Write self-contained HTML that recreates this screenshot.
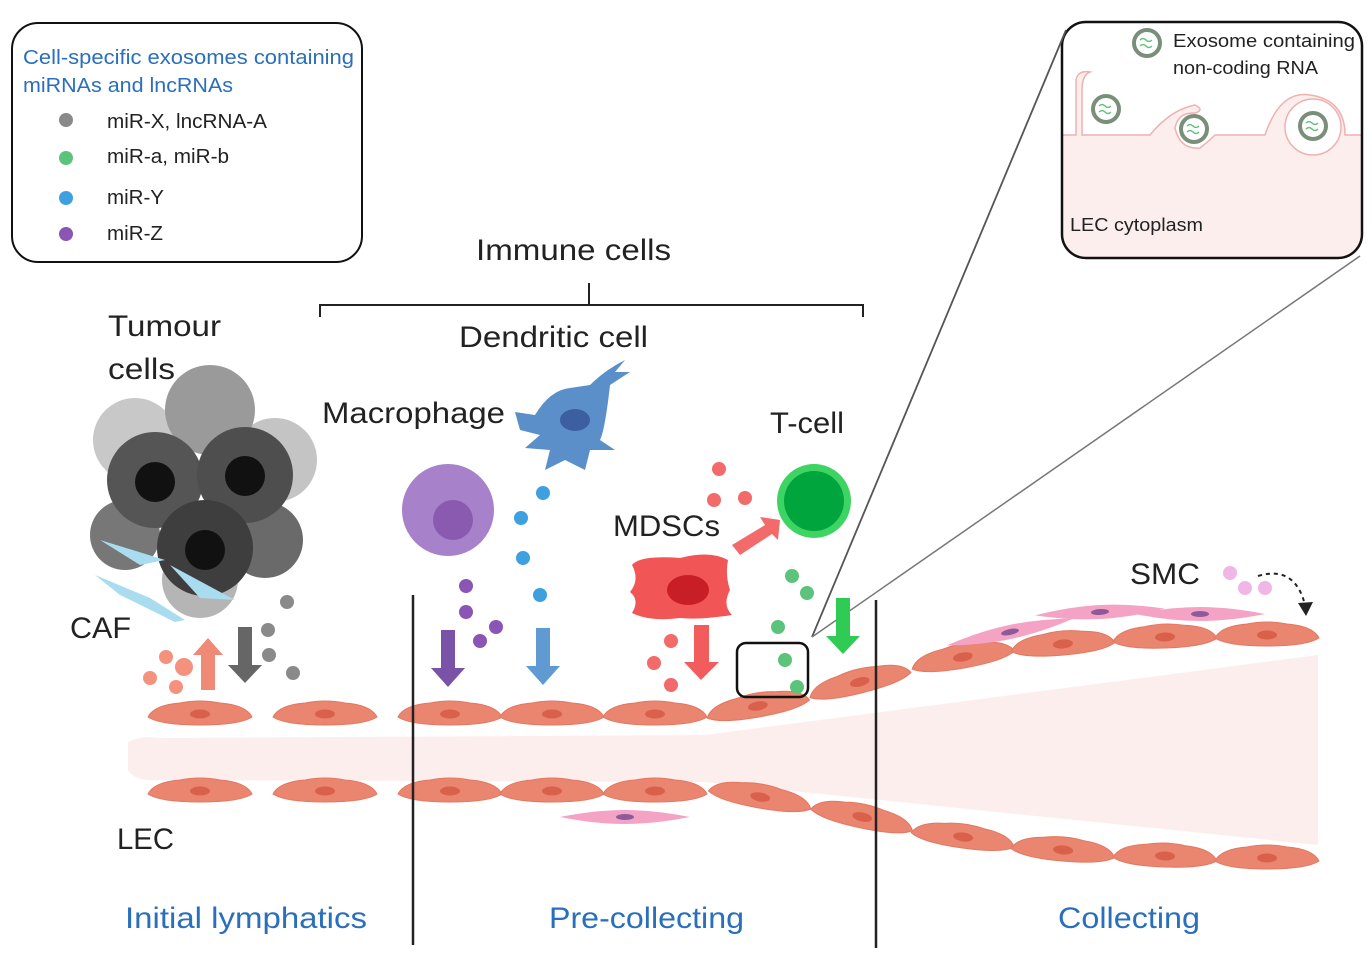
<!DOCTYPE html>
<html><head><meta charset="utf-8"><style>
html,body{margin:0;padding:0;background:#fff}
svg{display:block}
text{font-family:"Liberation Sans","DejaVu Sans",sans-serif}
</style></head><body>
<svg width="1372" height="962" viewBox="0 0 1372 962" xmlns="http://www.w3.org/2000/svg">
<defs>
<g id="c"><path d="M-52,2 Q-46,-10 -20,-12 Q0,-16 20,-12 Q46,-10 52,2 Q40,10 0,10 Q-40,10 -52,2Z" fill="#ea8570" stroke="#e27862" stroke-width="1"/><ellipse cx="0" cy="-1" rx="10" ry="4.5" fill="#d9604b"/></g>
<g id="s"><path d="M-65,0 Q-30,-7 0,-7 Q30,-7 65,0 Q30,7 0,7 Q-30,7 -65,0Z" fill="#f4a3c4"/><ellipse cx="0" cy="0" rx="9" ry="3" fill="#8e5a9a"/></g>
<g id="ex"><circle r="13" fill="#fff" stroke="#7a8f7a" stroke-width="4"/><path d="M-7,-3 q3,-3 6,0 t6,0 M-7,3 q3,-3 6,0 t6,0" stroke="#5ec27a" stroke-width="1.3" fill="none"/></g>
<clipPath id="ic"><rect x="1062" y="22" width="300" height="236" rx="24"/></clipPath>
</defs>

<!-- legend -->
<rect x="12" y="23" width="350" height="239" rx="26" fill="#fff" stroke="#111" stroke-width="2"/>
<text x="23" y="64" font-size="20" fill="#2a6fbb" textLength="331" lengthAdjust="spacingAndGlyphs">Cell-specific exosomes containing</text>
<text x="23" y="92" font-size="20" fill="#2a6fbb" textLength="210" lengthAdjust="spacingAndGlyphs">miRNAs and lncRNAs</text>
<circle cx="66" cy="120" r="7" fill="#8a8a8a"/><text x="107" y="128" font-size="20" fill="#222" textLength="160" lengthAdjust="spacingAndGlyphs">miR-X, lncRNA-A</text>
<circle cx="66" cy="158" r="7" fill="#5cc37a"/><text x="107" y="163" font-size="20" fill="#222" textLength="122" lengthAdjust="spacingAndGlyphs">miR-a, miR-b</text>
<circle cx="66" cy="198" r="7" fill="#3fa0e0"/><text x="107" y="204" font-size="20" fill="#222" textLength="57" lengthAdjust="spacingAndGlyphs">miR-Y</text>
<circle cx="66" cy="234" r="7" fill="#8a55b5"/><text x="107" y="240" font-size="20" fill="#222" textLength="56" lengthAdjust="spacingAndGlyphs">miR-Z</text>

<!-- inset -->
<rect x="1062" y="22" width="300" height="236" rx="24" fill="#fff"/>
<g clip-path="url(#ic)">
<path d="M1060,135 L1076,135 L1076,80 Q1078,70 1090,72 Q1082,75 1082,90 L1082,135 L1150,135 Q1170,110 1195,105 Q1205,110 1195,113 Q1178,112 1175,128 Q1180,150 1200,148 Q1210,140 1215,135 L1265,135 Q1280,90 1310,95 Q1345,100 1345,135 L1365,135 L1365,262 L1060,262Z" fill="#fdeeee" stroke="#f0b0b0" stroke-width="1.5"/>
<circle cx="1313" cy="127" r="28" fill="#fff" stroke="#f0b0b0" stroke-width="1.5"/>
</g>
<rect x="1062" y="22" width="300" height="236" rx="24" fill="none" stroke="#111" stroke-width="2.5"/>
<use href="#ex" x="1147" y="43"/><use href="#ex" x="1106" y="109"/><use href="#ex" x="1194" y="129"/><use href="#ex" x="1313" y="126"/>
<text x="1173" y="47" font-size="18" fill="#222" textLength="182" lengthAdjust="spacingAndGlyphs">Exosome containing</text>
<text x="1173" y="74" font-size="18" fill="#222" textLength="145" lengthAdjust="spacingAndGlyphs">non-coding RNA</text>
<text x="1070" y="231" font-size="18" fill="#222" textLength="133" lengthAdjust="spacingAndGlyphs">LEC cytoplasm</text>
<line x1="812" y1="637" x2="1066" y2="30" stroke="#555" stroke-width="1.8"/>
<line x1="812" y1="637" x2="1360" y2="256" stroke="#777" stroke-width="1.5"/>

<!-- bracket -->
<text x="476" y="260" font-size="30" fill="#222" textLength="195" lengthAdjust="spacingAndGlyphs">Immune cells</text>
<path d="M320,317 V305 H863 V317 M589,283 V305" stroke="#222" stroke-width="2" fill="none"/>
<text x="459" y="347" font-size="30" fill="#222" textLength="189" lengthAdjust="spacingAndGlyphs">Dendritic cell</text>
<text x="108" y="336" font-size="30" fill="#222" textLength="113" lengthAdjust="spacingAndGlyphs">Tumour</text>
<text x="108" y="379" font-size="30" fill="#222" textLength="67" lengthAdjust="spacingAndGlyphs">cells</text>
<text x="322" y="423" font-size="30" fill="#222" textLength="183" lengthAdjust="spacingAndGlyphs">Macrophage</text>
<text x="770" y="433" font-size="30" fill="#222" textLength="74" lengthAdjust="spacingAndGlyphs">T-cell</text>
<text x="613" y="536" font-size="30" fill="#222" textLength="107" lengthAdjust="spacingAndGlyphs">MDSCs</text>
<text x="70" y="638" font-size="30" fill="#222" textLength="61" lengthAdjust="spacingAndGlyphs">CAF</text>
<text x="1130" y="584" font-size="30" fill="#222" textLength="70" lengthAdjust="spacingAndGlyphs">SMC</text>
<text x="117" y="849" font-size="30" fill="#222" textLength="57" lengthAdjust="spacingAndGlyphs">LEC</text>
<text x="125" y="928" font-size="30" fill="#2a6fbb" textLength="242" lengthAdjust="spacingAndGlyphs">Initial lymphatics</text>
<text x="549" y="928" font-size="30" fill="#2a6fbb" textLength="195" lengthAdjust="spacingAndGlyphs">Pre-collecting</text>
<text x="1058" y="928" font-size="30" fill="#2a6fbb" textLength="142" lengthAdjust="spacingAndGlyphs">Collecting</text>

<!-- vessel band -->
<path d="M128,742 Q140,735 160,738 L705,735 L1318,655 L1318,845 L705,782 L160,780 Q135,782 128,770Z" fill="#fdeeee"/>

<!-- cells -->
<g>
<use href="#c" x="200" y="715"/><use href="#c" x="325" y="715"/><use href="#c" x="450" y="715"/><use href="#c" x="552" y="715"/><use href="#c" x="655" y="715"/>
<use href="#c" x="200" y="792"/><use href="#c" x="325" y="792"/><use href="#c" x="450" y="792"/><use href="#c" x="552" y="792"/><use href="#c" x="655" y="792"/>
<use href="#c" transform="translate(758,707) rotate(-10)"/><use href="#c" transform="translate(860,683) rotate(-14)"/><use href="#c" transform="translate(963,658) rotate(-10)"/><use href="#c" transform="translate(1063,645) rotate(-5)"/><use href="#c" transform="translate(1165,638) rotate(-2)"/><use href="#c" transform="translate(1267,636)"/>
<use href="#c" transform="translate(760,798) rotate(10)"/><use href="#c" transform="translate(862,818) rotate(12)"/><use href="#c" transform="translate(963,838) rotate(8)"/><use href="#c" transform="translate(1063,851) rotate(5)"/><use href="#c" transform="translate(1165,857) rotate(2)"/><use href="#c" transform="translate(1267,859)"/>
</g>
<use href="#s" x="625" y="817"/>
<use href="#s" transform="translate(1100,612) rotate(-3)"/><use href="#s" transform="translate(1010,632) rotate(-12)"/><use href="#s" transform="translate(1200,614)"/>

<!-- vertical dividers -->
<line x1="413" y1="595" x2="413" y2="945" stroke="#222" stroke-width="2.5"/>
<line x1="876" y1="600" x2="876" y2="948" stroke="#222" stroke-width="2.5"/>

<!-- tumour cluster -->
<g>
<circle cx="135" cy="440" r="42" fill="#c8c8c8"/><circle cx="275" cy="460" r="42" fill="#c4c4c4"/><circle cx="210" cy="410" r="45" fill="#9a9a9a"/>
<circle cx="125" cy="535" r="35" fill="#777"/><circle cx="265" cy="540" r="38" fill="#6a6a6a"/><circle cx="200" cy="580" r="38" fill="#b5b5b5"/>
<circle cx="155" cy="480" r="48" fill="#555"/><circle cx="245" cy="475" r="48" fill="#4e4e4e"/><circle cx="205" cy="548" r="48" fill="#3e3e3e"/>
<circle cx="155" cy="482" r="20" fill="#111"/><circle cx="245" cy="476" r="20" fill="#111"/><circle cx="205" cy="550" r="20" fill="#111"/>
<path d="M95,575 L150,598 L185,620 L175,622 L120,595Z" fill="#a9dcef"/><path d="M100,540 L165,560 L140,565Z" fill="#a9dcef"/><path d="M170,565 L235,600 L200,598Z" fill="#a9dcef"/>
</g>

<!-- macrophage, DC -->
<circle cx="448" cy="510" r="46" fill="#a781c9"/><circle cx="453" cy="520" r="20" fill="#8a59b0"/>
<path d="M515,412 L535,415 Q550,390 570,388 L590,385 Q605,370 625,360 L615,372 L630,372 L610,385 Q605,430 600,440 L615,450 L590,450 L585,470 L565,460 L545,470 L550,450 L525,448 L540,435 L520,430Z" fill="#5b8fc9"/><ellipse cx="575" cy="420" rx="15" ry="11" fill="#3b5fa0"/>
<!-- T cell -->
<circle cx="814" cy="501" r="37" fill="#3ed463"/><circle cx="814" cy="501" r="30" fill="#00a53e"/>
<!-- MDSC -->
<path d="M632,565 Q640,555 680,558 Q710,550 728,560 Q725,575 730,590 Q722,605 732,615 Q700,620 680,618 Q650,622 632,613 Q640,600 630,592 Q640,580 632,565Z" fill="#f25556"/><ellipse cx="688" cy="590" rx="21" ry="15" fill="#c81e25"/>

<!-- arrows -->
<g>
<path d="M201,690 V655 H193 L208,638 L223,655 H215 V690Z" fill="#ef8a77"/>
<path d="M238,627 H252 V665 H262 L245,683 L228,665 H238Z" fill="#666"/>
<path d="M441,630 H455 V668 H465 L448,687 L431,668 H441Z" fill="#7a52a8"/>
<path d="M536,628 H550 V666 H560 L543,685 L526,666 H536Z" fill="#5f9ad3"/>
<path d="M694,625 H709 V662 H719 L701,680 L684,662 H694Z" fill="#f35c5c"/>
<path d="M836,598 H850 V636 H860 L843,654 L826,636 H836Z" fill="#2fcb55"/>
<path d="M732,545 L765,525 L760,517 L780,520 L778,540 L772,534 L740,555Z" fill="#f36a6a"/>
</g>

<!-- exosome dots -->
<g fill="#f36a6a"><circle cx="150" cy="678" r="7" fill="#f4927d"/><circle cx="166" cy="657" r="7" fill="#f4927d"/><circle cx="184" cy="667" r="9" fill="#f4927d"/><circle cx="176" cy="687" r="7" fill="#f4927d"/>
<circle cx="719" cy="469" r="7"/><circle cx="714" cy="500" r="7"/><circle cx="745" cy="498" r="7"/><circle cx="671" cy="641" r="7"/><circle cx="654" cy="663" r="7"/><circle cx="671" cy="685" r="7"/></g>
<g fill="#8a8a8a"><circle cx="287" cy="602" r="7"/><circle cx="268" cy="630" r="7"/><circle cx="269" cy="655" r="7"/><circle cx="293" cy="673" r="7"/></g>
<g fill="#8a55b5"><circle cx="466" cy="586" r="7"/><circle cx="466" cy="612" r="7"/><circle cx="496" cy="627" r="7"/><circle cx="480" cy="641" r="7"/></g>
<g fill="#3fa0e0"><circle cx="543" cy="493" r="7"/><circle cx="521" cy="518" r="7"/><circle cx="523" cy="558" r="7"/><circle cx="540" cy="595" r="7"/></g>
<g fill="#5cc37a"><circle cx="792" cy="576" r="7"/><circle cx="807" cy="593" r="7"/><circle cx="778" cy="627" r="7"/><circle cx="785" cy="660" r="7"/><circle cx="797" cy="687" r="7"/></g>
<g fill="#f0b6e6"><circle cx="1230" cy="573" r="7"/><circle cx="1245" cy="588" r="7"/><circle cx="1265" cy="588" r="7"/></g>
<path d="M1258,576 Q1295,565 1305,605" stroke="#222" stroke-width="2" stroke-dasharray="4,4" fill="none"/>
<path d="M1298,603 L1306,616 L1313,602Z" fill="#222"/>
<rect x="737" y="643" width="71" height="54" rx="9" fill="none" stroke="#111" stroke-width="2.5"/>
</svg>
</body></html>
